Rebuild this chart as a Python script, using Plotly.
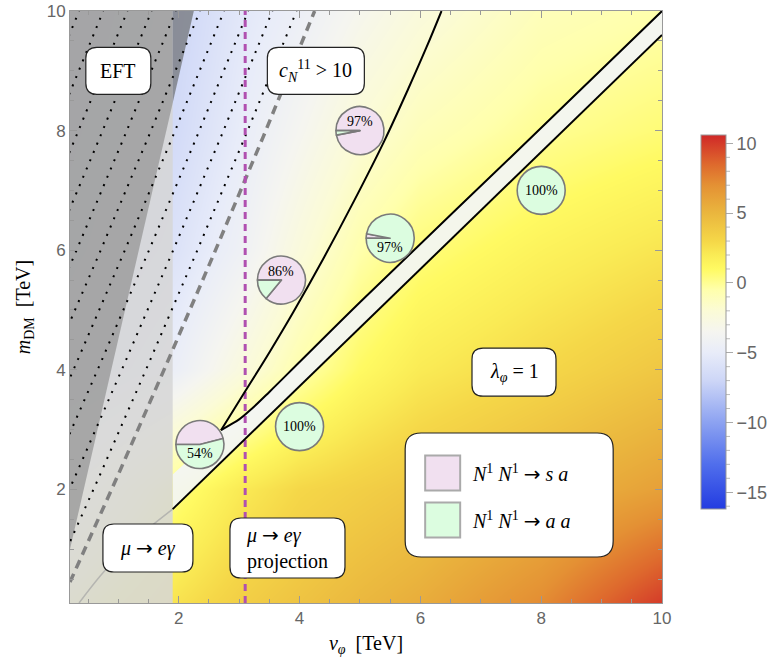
import plotly.graph_objects as go

# ---------------- data ----------------
V_RANGE = [0.2, 10.0]
M_RANGE = [0.1, 10.0]

# background density (colour-bar quantity) on a coarse (v_phi, m_DM) grid
grid_v = [0.2, 2.0, 3.0, 4.0, 5.0, 6.0, 8.0, 10.0]
grid_m = [0.1, 2.0, 4.0, 6.0, 8.0, 10.0]
grid_z = [
    [0.0, 2.5, 3.5, 4.2, 4.9, 5.5, 7.2, 10.0],
    [-3.0, 0.5, 2.0, 3.0, 3.5, 4.0, 5.0, 6.2],
    [-6.5, -4.5, -2.5, -0.5, 1.0, 2.0, 3.0, 4.0],
    [-7.5, -5.8, -4.3, -2.3, -0.5, 0.5, 1.5, 2.3],
    [-8.0, -6.5, -5.0, -3.5, -2.0, -1.0, 0.0, 0.6],
    [-8.5, -6.9, -5.5, -4.5, -3.3, -2.3, -1.0, -0.5],
]
Z_MIN, Z_MAX = -16.2, 10.6
CB_LABELS = [-15, -10, -5, 0, 5, 10]

# excluded / constrained regions
eft_edge_v = [0.2, 2.25]
eft_edge_m = [1.0, 10.0]
meg_bound_v = 1.9
meg_proj_v = 3.1

# perturbativity bound (grey dashed)
pert_v = [0.2, 1.0, 1.8, 2.6, 3.4, 4.25]
pert_m = [0.45, 2.25, 4.1, 5.98, 7.9, 10.0]

# c_N^11 > 10 boundary
cn_v = [2.70, 3.1, 3.5, 3.9, 4.4, 4.9, 5.4, 5.8, 6.1, 6.35]
cn_m = [2.99, 3.64, 4.29, 4.97, 5.87, 6.82, 7.82, 8.7, 9.39, 10.0]

# lambda_phi = 1 band edges
lam_up_v = [2.70, 2.85, 3.0, 3.2, 3.5, 4.0, 5.0, 7.5, 10.0]
lam_up_m = [2.99, 3.08, 3.17, 3.34, 3.63, 4.13, 5.13, 7.56, 10.0]
lam_lo_v = [1.9, 10.0]
lam_lo_m = [1.67, 9.6]
faint_v = [0.35, 0.7, 1.1, 1.5, 1.9]
faint_m = [0.1, 0.55, 1.0, 1.35, 1.67]

# annihilation branching fractions, in %
pie_v = [5.0, 5.5, 3.7, 2.35, 4.0, 8.0]
pie_m = [8.0, 6.2, 5.5, 2.75, 3.05, 7.0]
pie_aa = [3, 97, 14, 54, 100, 100]   # N1 N1 -> a a
pie_sa = [97, 3, 86, 46, 0, 0]       # N1 N1 -> s a

# ---------------- layout geometry ----------------
W, H = 772, 667
ML, MR, MT, MB = 70, 110, 11, 64
PW, PH = W - ML - MR, H - MT - MB
SX = PW / (V_RANGE[1] - V_RANGE[0])
SY = PH / (M_RANGE[1] - M_RANGE[0])

PINK = "#f1e0f0"
GREEN = "#dcfde0"
SERIF = "Liberation Serif"
SANS = "Liberation Sans"
ARROW = "<span style='font-family:DejaVu Sans'>→</span>"

cvals = [-16.2, -13, -10, -7, -5, -3.5, -2, -0.5, 1, 2, 3, 5, 7, 8.5, 10.6]
ccols = [(35, 60, 225), (80, 110, 236), (140, 162, 241), (205, 214, 247),
         (232, 236, 249), (245, 245, 240), (251, 251, 214), (255, 255, 172),
         (255, 250, 98), (250, 235, 85), (245, 215, 72), (234, 182, 62),
         (228, 145, 52), (222, 105, 45), (208, 40, 40)]
cscale = [[(v - Z_MIN) / (Z_MAX - Z_MIN), "rgb(%d,%d,%d)" % c] for v, c in zip(cvals, ccols)]

# colour bar placement (pixels)
CB_LEFT, CB_TOP, CB_BOT, CB_THICK = 701, 135, 509, 25

fig = go.Figure()
fig.add_trace(go.Heatmap(
    x=grid_v, y=grid_m, z=grid_z, zsmooth="best", zmin=Z_MIN, zmax=Z_MAX,
    colorscale=cscale, hoverinfo="skip",
    colorbar=dict(
        x=(CB_LEFT - ML) / PW, xanchor="left",
        y=(MT + PH - (CB_TOP + CB_BOT) / 2) / PH, yanchor="middle",
        thickness=CB_THICK, len=CB_BOT - CB_TOP, lenmode="pixels",
        outlinecolor="#999", outlinewidth=1, xpad=0, ypad=0,
        tickvals=CB_LABELS, ticktext=[str(t).replace("-", "\u2212") for t in CB_LABELS],
        ticks="outside", ticklen=7, tickcolor="#aaa",
        tickfont=dict(family=SANS, size=18, color="#666"),
    ),
))

# lambda_phi band (pale strip between the two lines)
band_v = [meg_bound_v] + lam_up_v + lam_lo_v[::-1]
band_m = [2.25] + lam_up_m + lam_lo_m[::-1]
fig.add_trace(go.Scatter(x=band_v, y=band_m, fill="toself", mode="none",
                         fillcolor="rgba(243,245,251,0.88)", hoverinfo="skip", showlegend=False))

# mu -> e gamma excluded strip
fig.add_trace(go.Scatter(x=[V_RANGE[0], meg_bound_v, meg_bound_v, V_RANGE[0]],
                         y=[M_RANGE[0], M_RANGE[0], M_RANGE[1], M_RANGE[1]],
                         fill="toself", mode="none", fillcolor="rgba(214,214,214,0.88)",
                         hoverinfo="skip", showlegend=False))

# EFT-invalid region, split at the mu -> e gamma boundary
slope = (eft_edge_m[1] - eft_edge_m[0]) / (eft_edge_v[1] - eft_edge_v[0])
m_cross = eft_edge_m[0] + slope * (meg_bound_v - eft_edge_v[0])
fig.add_trace(go.Scatter(x=[eft_edge_v[0], eft_edge_v[0], meg_bound_v, meg_bound_v],
                         y=[eft_edge_m[0], M_RANGE[1], M_RANGE[1], m_cross],
                         fill="toself", mode="none", fillcolor="rgba(150,150,150,0.75)",
                         hoverinfo="skip", showlegend=False))
fig.add_trace(go.Scatter(x=[meg_bound_v, meg_bound_v, eft_edge_v[1]],
                         y=[m_cross, M_RANGE[1], eft_edge_m[1]],
                         fill="toself", mode="none", fillcolor="rgba(120,122,128,0.8)",
                         hoverinfo="skip", showlegend=False))

# dotted hatching left of the perturbativity bound
for k in range(13):
    fig.add_trace(go.Scatter(x=[v - 0.3 - 0.4 * k for v in pert_v], y=pert_m, mode="lines",
                             line=dict(color="black", width=2, dash="2px,7px"),
                             hoverinfo="skip", showlegend=False))

fig.add_trace(go.Scatter(x=faint_v, y=faint_m, mode="lines", line=dict(color="rgba(165,165,165,0.7)", width=1.5),
                         line_shape="spline", hoverinfo="skip", showlegend=False))

fig.add_trace(go.Scatter(x=pert_v, y=pert_m, mode="lines", line=dict(color="#808080", width=3.5, dash="9px,6px"),
                         hoverinfo="skip", showlegend=False))
fig.add_trace(go.Scatter(x=[meg_proj_v, meg_proj_v], y=M_RANGE, mode="lines",
                         line=dict(color="#b050b0", width=3, dash="7px,5px"),
                         hoverinfo="skip", showlegend=False))

for xs, ys in [(cn_v, cn_m), (lam_up_v, lam_up_m), (lam_lo_v, lam_lo_m)]:
    fig.add_trace(go.Scatter(x=xs, y=ys, mode="lines", line=dict(color="black", width=2),
                             line_shape="spline", hoverinfo="skip", showlegend=False))

# pie charts of the annihilation channels: the "a a" wedge opens from 9 o'clock downwards
R_PIE = 24
annotations = []
for v, m, aa, sa in zip(pie_v, pie_m, pie_aa, pie_sa):
    cx = (v - V_RANGE[0]) * SX
    cy = (m - M_RANGE[0]) * SY
    vals, cols = ([sa, aa], [PINK, GREEN]) if sa > 0 else ([aa], [GREEN])
    fig.add_trace(go.Pie(
        values=vals, sort=False, direction="clockwise", rotation=270,
        marker=dict(colors=cols, line=dict(color="#7a7a7a", width=1.6)),
        textinfo="none", hoverinfo="skip", showlegend=False,
        domain=dict(x=[(cx - R_PIE) / PW, (cx + R_PIE) / PW], y=[(cy - R_PIE) / PH, (cy + R_PIE) / PH]),
    ))
    top = max(aa, sa)
    shift = 0 if top == 100 else (9 if sa > aa else -9)
    annotations.append(dict(x=v, y=m, yshift=shift, text="%d%%" % top, showarrow=False,
                            font=dict(family=SERIF, size=14, color="black")))


# rounded label boxes
def rounded_box(xc, yc, wpx, hpx, rpx=11):
    hw, hh = wpx / 2 / SX, hpx / 2 / SY
    rx, ry = rpx / SX, rpx / SY
    x0, x1, y0, y1 = xc - hw, xc + hw, yc - hh, yc + hh
    p = (f"M{x0+rx},{y0} L{x1-rx},{y0} Q{x1},{y0} {x1},{y0+ry} L{x1},{y1-ry} Q{x1},{y1} {x1-rx},{y1} "
         f"L{x0+rx},{y1} Q{x0},{y1} {x0},{y1-ry} L{x0},{y0+ry} Q{x0},{y0} {x0+rx},{y0} Z")
    return dict(type="path", path=p, xref="x", yref="y", fillcolor="white",
                line=dict(color="#222", width=1.2), layer="above")


shapes = []
labels = [
    (1.0, 9.0, 65, 47, "EFT", "center"),
    (4.27, 9.0, 97, 47, "<i>c</i><sub><i>N</i></sub><sup>11</sup> > 10", "center"),
    (1.49, 1.02, 90, 48, f"<i>μ</i> {ARROW} <i>eγ</i>", "center"),
    (3.80, 1.02, 115, 60, f"<i>μ</i> {ARROW} <i>eγ</i><br>projection", "left"),
    (7.55, 3.96, 84, 48, "<i>λ</i><sub><i>φ</i></sub> = 1", "center"),
]
for xc, yc, w, h, txt, al in labels:
    shapes.append(rounded_box(xc, yc, w, h))
    annotations.append(dict(x=xc, y=yc, text=txt, showarrow=False, align=al,
                            font=dict(family=SERIF, size=20, color="black")))

# legend panel
lgx, lgy = 7.47, 1.906
shapes.append(rounded_box(lgx, lgy, 208, 124, 16))
for i, (col, txt) in enumerate([(PINK, f"<i>N</i><sup>1</sup> <i>N</i><sup>1</sup> {ARROW} <i>s a</i>"),
                                 (GREEN, f"<i>N</i><sup>1</sup> <i>N</i><sup>1</sup> {ARROW} <i>a a</i>")]):
    yc = lgy + (22 - 47 * i) / SY
    x0 = lgx + (-84) / SX
    shapes.append(dict(type="rect", xref="x", yref="y", x0=x0, x1=x0 + 35 / SX,
                       y0=yc - 17.5 / SY, y1=yc + 17.5 / SY, fillcolor=col,
                       line=dict(color="#aaa", width=2), layer="above"))
    annotations.append(dict(x=x0 + 45 / SX, y=yc, xanchor="left", text=txt, showarrow=False,
                            font=dict(family=SERIF, size=20, color="black")))

# minor ticks on the colour bar
cb_x = (CB_LEFT + CB_THICK - ML) / PW
for t in range(-16, 11):
    if t % 5 == 0:
        continue
    yp = (MT + PH - (CB_BOT - (t - Z_MIN) / (Z_MAX - Z_MIN) * (CB_BOT - CB_TOP))) / PH
    shapes.append(dict(type="line", xref="paper", yref="paper", x0=cb_x, x1=cb_x + 4 / PW,
                       y0=yp, y1=yp, line=dict(color="#bbb", width=1)))

axis_common = dict(showgrid=False, zeroline=False, showline=True, linecolor="#999", linewidth=1,
                   mirror="allticks", ticks="inside", ticklen=7, tickcolor="#999", tick0=0, dtick=2,
                   minor=dict(ticks="inside", ticklen=4, tickcolor="#999", dtick=0.5, tick0=0),
                   tickfont=dict(family=SANS, size=17, color="#666"))

fig.update_layout(
    width=W, height=H, margin=dict(l=ML, r=MR, t=MT, b=MB, autoexpand=False),
    paper_bgcolor="white", plot_bgcolor="white",
    xaxis=dict(range=V_RANGE, title=dict(text="<i>v</i><sub><i>φ</i></sub>  [TeV]", standoff=8,
                                         font=dict(family=SERIF, size=20, color="black")), **axis_common),
    yaxis=dict(range=M_RANGE, title=dict(text="<i>m</i><sub>DM</sub>  [TeV]", standoff=10,
                                         font=dict(family=SERIF, size=20, color="black")), **axis_common),
    shapes=shapes, annotations=annotations,
)

fig.write_html("out.html")
